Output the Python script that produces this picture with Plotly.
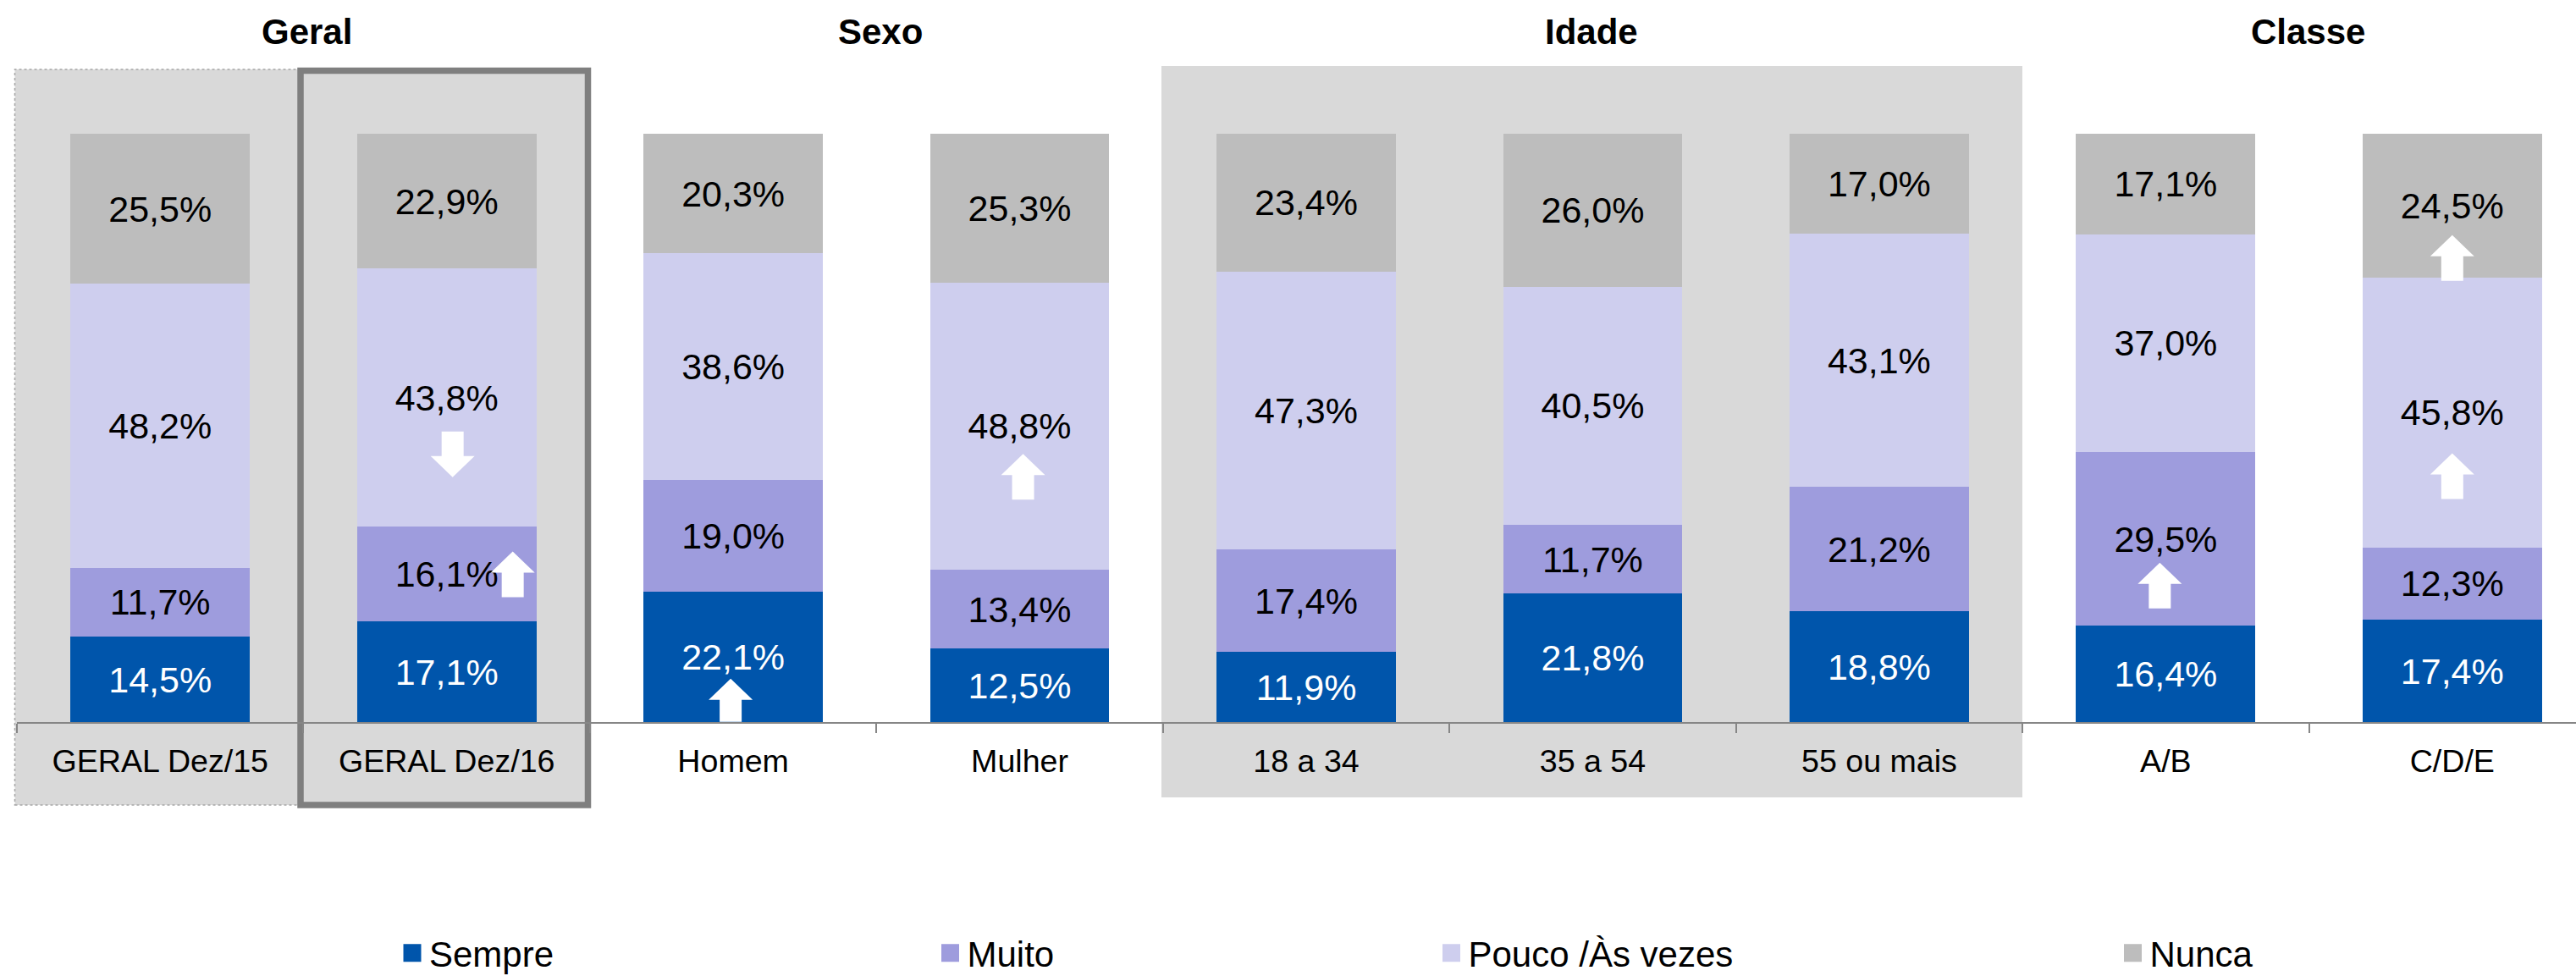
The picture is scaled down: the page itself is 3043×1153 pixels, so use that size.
import plotly.graph_objects as go

categories = ["GERAL Dez/15", "GERAL Dez/16", "Homem", "Mulher", "18 a 34", "35 a 54", "55 ou mais", "A/B", "C/D/E"]
sempre = [14.5, 17.1, 22.1, 12.5, 11.9, 21.8, 18.8, 16.4, 17.4]
muito = [11.7, 16.1, 19.0, 13.4, 17.4, 11.7, 21.2, 29.5, 12.3]
pouco = [48.2, 43.8, 38.6, 48.8, 47.3, 40.5, 43.1, 37.0, 45.8]
nunca = [25.5, 22.9, 20.3, 25.3, 23.4, 26.0, 17.0, 17.1, 24.5]
series_names = ["Sempre", "Muito", "Pouco /Às vezes", "Nunca"]
series_values = [sempre, muito, pouco, nunca]
series_colors = ["#0055AB", "#9E9CDD", "#CECEEE", "#BDBDBD"]
text_colors = ["white", "black", "black", "black"]
group_titles = ["Geral", "Sexo", "Idade", "Classe"]

# Change markers: category, direction, vertical centre (% of the stack), x offset px, height px
arrow_cat = ["GERAL Dez/16", "GERAL Dez/16", "Homem", "Mulher", "A/B", "C/D/E", "C/D/E"]
arrow_dir = [-1, 1, 1, 1, 1, 1, 1]
arrow_pos = [45.5, 25.1, 3.7, 41.7, 23.2, 41.8, 78.9]
arrow_off = [7, 78, -3, 4, -7, 0, 0]
arrow_h = [54, 54, 51, 54, 54, 54, 54]

W, H = 3043, 1153
L, T, B = 20, 158, 853
PW, PH = W - L, B - T
FONT = "Liberation Sans, Arial, sans-serif"


def px(v):
    return (v - L) / PW


def py(v):
    return (B - v) / PH


fig = go.Figure()
for name, vals, col, tc in zip(series_names, series_values, series_colors, text_colors):
    fig.add_trace(go.Bar(
        x=categories, y=vals, name=name, showlegend=False,
        marker=dict(color=col, line=dict(width=0)),
        text=[f"{v:.1f}%".replace(".", ",") for v in vals],
        textposition="inside", insidetextanchor="middle", textangle=0,
        constraintext="none",
        textfont=dict(family=FONT, size=43, color=tc),
        hoverinfo="skip",
    ))

legend_left = [476.5, 1112, 1704, 2509]
legend_ids = ["legend", "legend2", "legend3", "legend4"]
legend_layout = {}
for name, col, lid, left in zip(series_names, series_colors, legend_ids, legend_left):
    fig.add_trace(go.Scatter(
        x=[None], y=[None], mode="markers", name=name, legend=lid, showlegend=True,
        marker=dict(symbol="square", size=16, color=col, line=dict(color=col, width=5)),
    ))
    legend_layout[lid] = dict(
        x=px(left - 9.5), y=py(1126), xanchor="left", yanchor="middle",
        bgcolor="rgba(0,0,0,0)", borderwidth=0,
        font=dict(family=FONT, size=42, color="black"),
        itemclick=False, itemdoubleclick=False,
    )

PANEL = "#D9D9D9"
shapes = [
    dict(type="rect", xref="paper", yref="paper", layer="below",
         x0=px(17.5), x1=px(355), y0=py(951), y1=py(82), fillcolor=PANEL,
         line=dict(color="#A6A6A6", width=1.5, dash="dot")),
    dict(type="rect", xref="paper", yref="paper", layer="below",
         x0=px(355), x1=px(694.5), y0=py(951), y1=py(83.5), fillcolor=PANEL,
         line=dict(color="#7F7F7F", width=7.5)),
    dict(type="rect", xref="paper", yref="paper", layer="below",
         x0=px(1372), x1=px(2389), y0=py(942), y1=py(78), fillcolor=PANEL,
         line=dict(width=0)),
]

for cat, d, pos, off, h in zip(arrow_cat, arrow_dir, arrow_pos, arrow_off, arrow_h):
    ht = h / 2
    if d > 0:
        pts = [(off, ht), (off + 26, ht - 25), (off + 13, ht - 25), (off + 13, -ht),
               (off - 13, -ht), (off - 13, ht - 25), (off - 26, ht - 25)]
    else:
        pts = [(off, -ht), (off + 26, -ht + 25), (off + 13, -ht + 25), (off + 13, ht),
               (off - 13, ht), (off - 13, -ht + 25), (off - 26, -ht + 25)]
    path = "M " + " L ".join(f"{a} {b}" for a, b in pts) + " Z"
    shapes.append(dict(type="path", path=path, layer="above",
                       xref="x", yref="y", xsizemode="pixel", ysizemode="pixel",
                       xanchor=cat, yanchor=pos,
                       fillcolor="white", line=dict(width=0)))

title_px = [362, 1040, 1880, 2726]
annotations = [
    dict(text=f"<b>{t}</b>", xref="paper", yref="paper", x=px(x), y=py(37),
         xanchor="center", yanchor="middle", showarrow=False,
         font=dict(family=FONT, size=42, color="black"))
    for t, x in zip(group_titles, title_px)
]

fig.update_layout(
    width=W, height=H, autosize=False,
    margin=dict(l=L, r=0, t=T, b=H - B, pad=0, autoexpand=False),
    paper_bgcolor="white", plot_bgcolor="rgba(0,0,0,0)",
    barmode="stack", barnorm="percent", bargap=0.374,
    shapes=shapes, annotations=annotations,
    xaxis=dict(type="category", categoryorder="array", categoryarray=categories,
               range=[-0.5, 8.432], tickson="boundaries", ticks="outside", ticklen=11,
               tickwidth=2, tickcolor="#868686", showline=True, linecolor="#868686",
               linewidth=2, showgrid=False, zeroline=False, ticklabelstandoff=12,
               automargin=False,
               tickfont=dict(family=FONT, size=37.6, color="black")),
    yaxis=dict(range=[0, 100], visible=False),
    **legend_layout,
)

fig.write_html("out.html", config=dict(displayModeBar=False),
               post_script="document.body.style.margin='0';document.documentElement.style.overflow='hidden';")
